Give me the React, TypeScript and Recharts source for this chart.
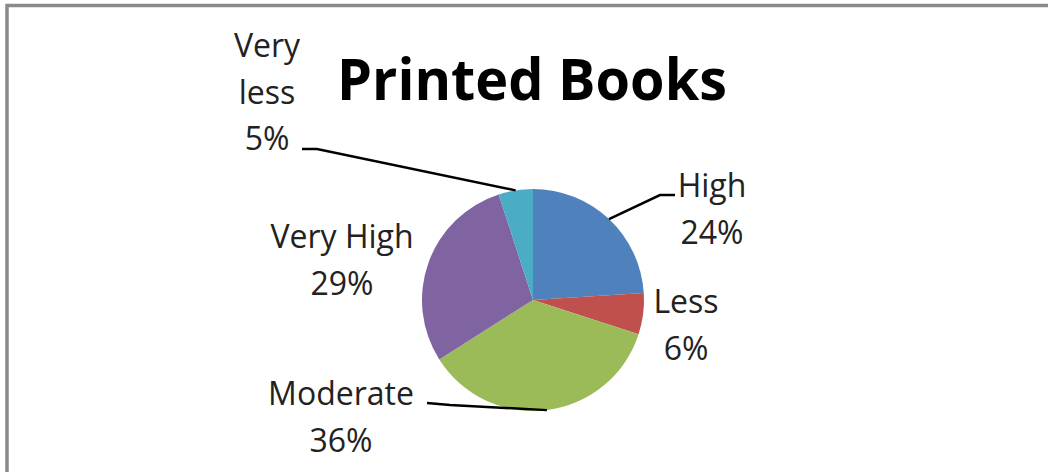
import React from "react";
import { PieChart, Pie, Cell } from "recharts";

const categories = ["High", "Less", "Moderate", "Very High", "Very less"];
const values = [24, 6, 36, 29, 5];
const colors = ["#4F81BD", "#C0504D", "#9BBB59", "#8064A2", "#4BACC6"];
const labelLines: string[][] = [["High"], ["Less"], ["Moderate"], ["Very High"], ["Very", "less"]];
const title = "Printed Books";

const data = categories.map((name, i) => ({ name, value: values[i] }));

// label layout relative to the pie centre: text centre dx, first baseline dy, leader polyline (elbow, end)
const layout: Record<string, { dx: number; dy: number; leader?: [number, number][] }> = {
  High: { dx: 179, dy: -103, leader: [[127, -105], [142, -105]] },
  Less: { dx: 153, dy: 13 },
  Moderate: { dx: -192, dy: 105, leader: [[-83, 105], [-106, 103]] },
  "Very High": { dx: -191, dy: -52 },
  "Very less": { dx: -266, dy: -243, leader: [[-216, -151], [-231, -151]] },
};

const LINE_H = 46.5;
const FONT = "'Open Sans', sans-serif";

const RADIAN = Math.PI / 180;

const renderLabel = (props: any) => {
  const { cx, cy, midAngle, outerRadius, index, percent } = props;
  const name = categories[index];
  const l = layout[name];
  const lines = [...labelLines[index], `${Math.round(percent * 100)}%`];
  const x = cx + l.dx;
  let path: string | null = null;
  if (l.leader) {
    const sx = cx + outerRadius * Math.cos(-midAngle * RADIAN);
    const sy = cy + outerRadius * Math.sin(-midAngle * RADIAN);
    path =
      `M${sx},${sy}` + l.leader.map(([px, py]) => ` L${cx + px},${cy + py}`).join("");
  }
  return (
    <g key={`lbl-${index}`}>
      {path && <path d={path} stroke="#000" strokeWidth={2.5} fill="none" />}
      {lines.map((t, k) => (
        <text
          key={k}
          x={x}
          y={cy + l.dy + k * LINE_H}
          textAnchor="middle"
          fontFamily={FONT}
          fontSize={32}
          fill="#222"
        >
          {t}
        </text>
      ))}
    </g>
  );
};

export default function App() {
  return (
    <div style={{ position: "fixed", left: 0, top: 0, width: 1048, height: 472, background: "#fff" }}>
      <svg
        width={1048}
        height={472}
        style={{ position: "absolute", left: 0, top: 0 }}
      >
        <rect x={7} y={5.5} width={1100} height={600} fill="none" stroke="#8a8a8a" strokeWidth={3.5} />
        <text
          x={532}
          y={100}
          textAnchor="middle"
          fontFamily={FONT}
          fontWeight={700}
          fontSize={57}
          textLength={390}
          lengthAdjust="spacingAndGlyphs"
          fill="#000"
        >
          {title}
        </text>
      </svg>
      <div style={{ position: "absolute", left: 0, top: 0 }}>
        <PieChart width={1048} height={472} margin={{ top: 0, right: 0, bottom: 0, left: 0 }}>
          <Pie
            data={data}
            dataKey="value"
            nameKey="name"
            cx={533}
            cy={300}
            outerRadius={111}
            startAngle={90}
            endAngle={-270}
            stroke="none"
            label={renderLabel}
            labelLine={false}
            isAnimationActive={false}
          >
            {data.map((d, i) => (
              <Cell key={d.name} fill={colors[i]} />
            ))}
          </Pie>
        </PieChart>
      </div>
    </div>
  );
}
